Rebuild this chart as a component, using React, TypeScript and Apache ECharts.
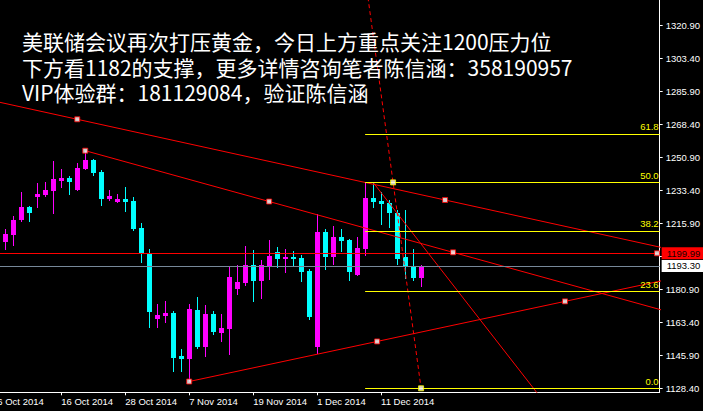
import React, { useEffect, useRef } from "react";
import * as echarts from "echarts";

// x positions are trading-day indices (0 = 6 Oct 2014)
const tickBars = [0, 8, 16, 24, 32, 40, 48];
const tickDates = ["6 Oct 2014", "16 Oct 2014", "28 Oct 2014", "7 Nov 2014", "19 Nov 2014", "1 Dec 2014", "11 Dec 2014"];
const firstBar = 1; // first visible candle: 7 Oct 2014

const opens = [
  1206.1, 1209.7, 1217.7, 1224.6, 1229.9, 1230.9, 1233.0, 1238.3, 1239.9, 1233.6,
  1244.7, 1249.5, 1243.1, 1228.8, 1227.2, 1228.8, 1227.7, 1213.4, 1200.2, 1165.2,
  1166.7, 1168.3, 1145.5, 1143.9, 1169.9, 1150.3, 1167.8, 1157.7, 1159.9, 1181.1,
  1184.2, 1193.8, 1185.3, 1193.3, 1200.7, 1197.0, 1198.0, 1197.5, 1190.6, 1150.3,
  1211.3, 1198.0, 1208.6, 1207.0, 1188.5, 1202.3, 1229.5, 1227.9, 1226.8, 1221.5,
  1198.2, 1193.3, 1186.9,
];
const highs = [
  1212.9, 1219.8, 1232.5, 1225.0, 1237.3, 1237.8, 1248.9, 1244.7, 1241.0, 1247.9,
  1254.2, 1250.0, 1244.2, 1233.6, 1231.4, 1235.2, 1229.9, 1216.1, 1202.3, 1173.1,
  1174.7, 1169.4, 1149.3, 1173.1, 1176.8, 1172.6, 1169.4, 1167.8, 1193.3, 1193.8,
  1203.9, 1201.7, 1196.4, 1207.0, 1203.3, 1202.3, 1201.2, 1199.1, 1191.7, 1220.8,
  1212.9, 1214.5, 1212.9, 1207.6, 1208.6, 1237.6, 1237.1, 1232.7, 1228.4, 1223.1,
  1223.0, 1202.3, 1193.8,
];
const lows = [
  1201.7, 1203.9, 1216.6, 1216.6, 1224.0, 1229.9, 1220.8, 1234.6, 1230.9, 1233.0,
  1244.2, 1241.0, 1225.1, 1227.7, 1226.7, 1221.9, 1211.8, 1194.9, 1160.4, 1160.4,
  1163.0, 1137.0, 1137.0, 1132.0, 1149.3, 1145.0, 1156.7, 1152.9, 1146.1, 1177.9,
  1182.6, 1174.2, 1175.8, 1185.8, 1192.2, 1189.5, 1193.3, 1184.8, 1164.6, 1146.6,
  1191.1, 1193.8, 1200.7, 1185.3, 1188.0, 1198.6, 1224.2, 1215.2, 1213.6, 1193.9,
  1186.5, 1185.3, 1182.1,
];
const closes = [
  1210.2, 1217.7, 1224.6, 1221.5, 1231.4, 1233.6, 1239.4, 1239.9, 1237.8, 1245.2,
  1249.5, 1242.6, 1228.8, 1230.4, 1228.8, 1227.2, 1212.9, 1199.6, 1168.9, 1167.3,
  1168.3, 1144.5, 1143.9, 1170.4, 1150.3, 1167.8, 1158.3, 1160.4, 1187.4, 1184.8,
  1193.8, 1185.3, 1193.8, 1198.6, 1197.0, 1198.0, 1197.0, 1190.1, 1166.2, 1211.3,
  1198.0, 1208.6, 1206.5, 1190.1, 1202.8, 1229.3, 1227.4, 1226.3, 1221.5, 1197.1,
  1193.4, 1186.9, 1193.3,
];

// price axis
const yTickValues = [1128.4, 1145.9, 1163.4, 1180.9, 1198.4, 1215.9, 1233.4, 1250.9, 1268.4, 1285.9, 1303.4, 1320.9];
const yLabelValues = [1128.4, 1145.9, 1163.4, 1180.9, 1215.9, 1233.4, 1250.9, 1268.4, 1285.9, 1303.4, 1320.9];

// trend lines: [barIndex, price] start / end anchors (rays extend right)
const trend1 = [[-36, 1313.86], [56, 1228.26]];
const trend2 = [[11, 1254.4], [57, 1200.5]];
const trend3 = [[24, 1132.0], [71, 1174.5]];
const trend4 = [[47, 1237.6], [58.5, 1175.0]];
// fibonacci: 100% anchor and 0% anchor
const fibAnchors = [[46, 1346.8], [53, 1128.4]];
const fibLevels = [0, 23.6, 38.2, 50, 61.8];
const resistance = 1199.99;
const bid = 1193.3;

const title = [
  "美联储会议再次打压黄金，今日上方重点关注1200压力位",
  "下方看1182的支撑，更多详情咨询笔者陈信涵：358190957",
  "VIP体验群：181129084，验证陈信涵",
];

const X_MIN = -0.6625;
const X_MAX = 82.8375;
const SHIFT = 8; // chart canvas starts 8px left of the page edge

function ray(a: number[], b: number[], to = 140) {
  const slope = (b[1] - a[1]) / (b[0] - a[0]);
  return [a, [to, a[1] + slope * (to - a[0])]];
}
function mid(a: number[], b: number[]) {
  return [(a[0] + b[0]) / 2, (a[1] + b[1]) / 2];
}

export default function App() {
  const ref = useRef<HTMLDivElement>(null);
  useEffect(() => {
    const chart = echarts.init(ref.current!, null, { renderer: "svg" });
    const candleData = opens.map((o, k) => [k + firstBar, o, highs[k], lows[k], closes[k]]);
    const fibPrice = (lv: number) => fibAnchors[1][1] + ((fibAnchors[0][1] - fibAnchors[1][1]) * lv) / 100;
    const lineStyle = { color: "#ff0000", width: 1 };
    const trendSeries = (pts: number[][]) => ({
      type: "line",
      data: pts,
      symbol: "none",
      showSymbol: false,
      clip: true,
      silent: true,
      lineStyle,
      z: 4,
    });
    const redMarkers = [
      mid(trend1[0], trend1[1]), trend1[1],
      trend2[0], mid(trend2[0], trend2[1]), trend2[1],
      trend3[0], mid(trend3[0], trend3[1]), trend3[1],
      [82.5, resistance],
    ];
    const yellowMarkers = [mid(fibAnchors[0], fibAnchors[1]), fibAnchors[1]];
    const labelFont = { fontFamily: "Liberation Sans, Arial, sans-serif", fontSize: 9.5 };

    const option: any = {
      animation: false,
      backgroundColor: "#000000",
      grid: { left: 0, right: 43, top: 0, bottom: 18.7 },
      xAxis: {
        type: "value",
        min: X_MIN,
        max: X_MAX,
        position: "bottom",
        axisLine: { show: true, onZero: false, lineStyle: { color: "#ffffff", width: 1 } },
        axisTick: { show: true, customValues: tickBars, length: 3, lineStyle: { color: "#ffffff" } },
        axisLabel: {
          show: true,
          customValues: tickBars,
          formatter: (v: number) => tickDates[tickBars.indexOf(v)] ?? "",
          color: "#ffffff",
          align: "left",
          margin: 4,
          ...labelFont,
        },
        splitLine: { show: false },
      },
      yAxis: {
        type: "value",
        position: "right",
        min: 1126.28,
        max: 1334.32,
        axisLine: { show: true, onZero: false, lineStyle: { color: "#ffffff", width: 1 } },
        axisTick: { show: true, customValues: yTickValues, length: 3, lineStyle: { color: "#ffffff" } },
        axisLabel: {
          show: true,
          customValues: yLabelValues,
          formatter: (v: number) => v.toFixed(2),
          color: "#ffffff",
          margin: 6,
          ...labelFont,
        },
        splitLine: { show: false },
      },
      graphic: [
        {
          type: "text",
          x: 22 + SHIFT,
          y: 28.3,
          z: 20,
          silent: true,
          style: {
            text: title.join("\n"),
            fill: "#ffffff",
            fontSize: 21,
            lineHeight: 25.5,
            fontFamily: "Noto Sans CJK SC, sans-serif",
            verticalAlign: "top",
          },
        },
      ],
      series: [
        {
          type: "custom",
          data: candleData,
          encode: { x: 0, y: [1, 2, 3, 4] },
          clip: true,
          silent: true,
          z: 2,
          renderItem: (params: any, api: any) => {
            const i = api.value(0);
            const o = api.value(1), h = api.value(2), l = api.value(3), c = api.value(4);
            const pO = api.coord([i, o]);
            const pC = api.coord([i, c]);
            const pH = api.coord([i, h]);
            const pL = api.coord([i, l]);
            const color = c >= o ? "#ff00ff" : "#00ffff";
            const cx = Math.floor(pO[0]) + 0.5;
            const top = Math.round(Math.min(pO[1], pC[1]));
            const bot = Math.round(Math.max(pO[1], pC[1]));
            return {
              type: "group",
              children: [
                {
                  type: "line",
                  shape: { x1: cx, y1: Math.round(pH[1]), x2: cx, y2: Math.round(pL[1]) },
                  style: { stroke: color, lineWidth: 1 },
                },
                {
                  type: "rect",
                  shape: { x: Math.round(pO[0] - 2.5), y: top, width: 5, height: Math.max(1, bot - top) },
                  style: { fill: color },
                },
              ],
            };
          },
        },
        trendSeries(ray(trend1[0], trend1[1])),
        trendSeries(ray(trend2[0], trend2[1])),
        trendSeries(ray(trend3[0], trend3[1])),
        trendSeries(ray(trend4[0], trend4[1])),
        {
          type: "line",
          data: fibAnchors,
          symbol: "none",
          showSymbol: false,
          clip: true,
          silent: true,
          lineStyle: { color: "#ff0000", width: 1, type: [4, 3] },
          z: 4,
        },
        {
          type: "scatter",
          data: redMarkers,
          symbol: "rect",
          symbolSize: 5,
          silent: true,
          z: 6,
          itemStyle: { color: "#ffffff", borderColor: "#ff0000", borderWidth: 1 },
          markLine: {
            silent: true,
            symbol: ["none", "none"],
            precision: 2,
            data: [
              ...fibLevels.map((lv) => [
                {
                  coord: [fibAnchors[0][0], fibPrice(lv)],
                  name: lv.toFixed(1),
                  lineStyle: { color: "#ffff00", width: 1, type: "solid" },
                  label: {
                    show: true,
                    position: "insideEndTop",
                    formatter: "{b}",
                    color: "#ffff00",
                    distance: [1, 2],
                    ...labelFont,
                  },
                },
                { coord: [X_MAX, fibPrice(lv)] },
              ]),
              {
                yAxis: bid,
                lineStyle: { color: "#778899", width: 1, type: "solid" },
                label: {
                  show: true,
                  position: "end",
                  formatter: bid.toFixed(2),
                  backgroundColor: "#ffffff",
                  color: "#000000",
                  padding: [1, 6, 1, 5],
                  distance: 2,
                  ...labelFont,
                },
              },
              {
                yAxis: resistance,
                lineStyle: { color: "#ff0000", width: 1, type: "solid" },
                label: {
                  show: true,
                  position: "end",
                  formatter: resistance.toFixed(2),
                  backgroundColor: "#ff0000",
                  color: "#200000",
                  padding: [1, 6, 1, 5],
                  distance: 2,
                  ...labelFont,
                },
              },
            ],
          },
        },
        {
          type: "scatter",
          data: yellowMarkers,
          symbol: "rect",
          symbolSize: 5,
          silent: true,
          z: 6,
          itemStyle: { color: "#ffffff", borderColor: "#ffff00", borderWidth: 1 },
        },
      ],
    };
    chart.setOption(option);
    return () => chart.dispose();
  }, []);
  return (
    <div
      ref={ref}
      style={{ position: "fixed", left: -SHIFT, top: 0, width: 703 + SHIFT, height: 411, background: "#000000" }}
    />
  );
}
